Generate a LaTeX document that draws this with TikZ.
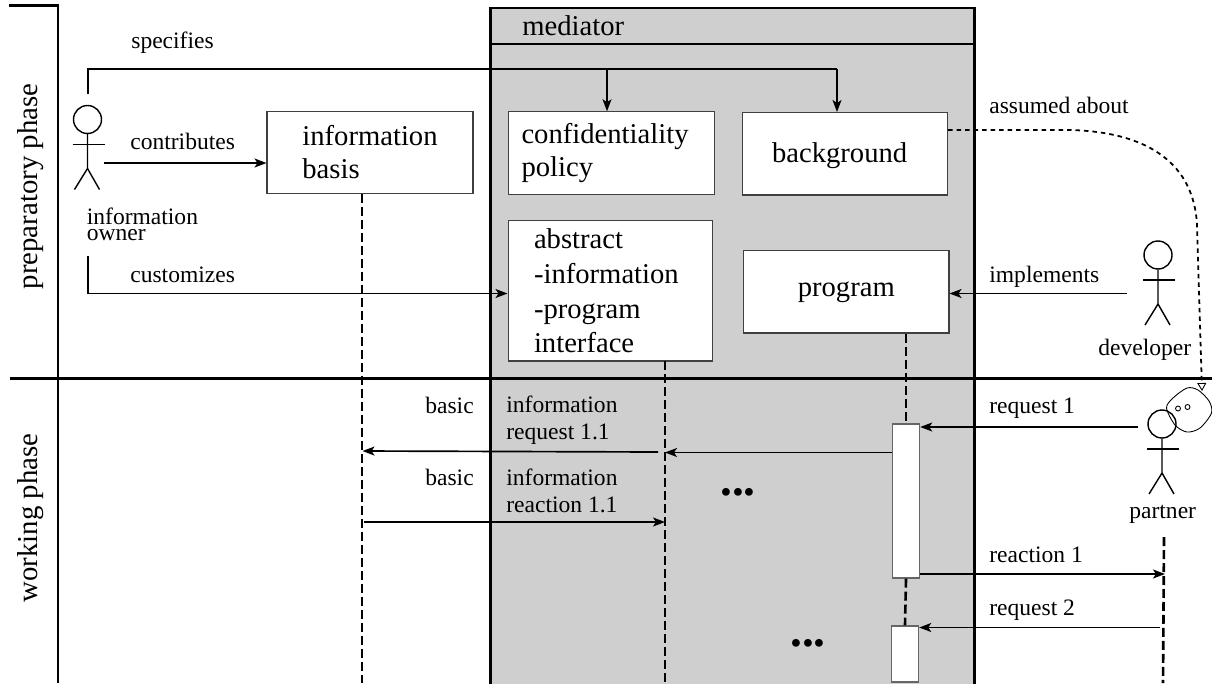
\documentclass[tikz,border=0pt]{standalone}
\usepackage{fontspec}
\setmainfont{Liberation Serif}
\usetikzlibrary{arrows.meta}
\definecolor{mediatorgray}{gray}{0.81}

\begin{document}
\begin{tikzpicture}[
	x=0.02cm,y=-0.02cm,
	>={Stealth[length=0.24cm,width=0.18cm,inset=0.06cm]},
	heavy/.style={line width=1.7pt},
	flow/.style={line width=0.95pt,->},
	life/.style={line width=1.5pt,dash pattern=on 0.18cm off 0.08cm},
	box/.style={draw=black!75,line width=0.6pt,fill=white,inner ysep=0pt,minimum height=1.65cm,align=left,font=\fontsize{16.3}{19}\selectfont},
	activation/.style={draw=black!60,line width=0.8pt,fill=white,inner sep=0pt,minimum width=0.54cm},
	lbl/.style={anchor=base west,inner sep=0pt,align=left,font=\fontsize{13.4}{14.9}\selectfont},
	biglbl/.style={anchor=base west,inner sep=0pt,font=\fontsize{16.3}{18.7}\selectfont},
	phase/.style={anchor=base,rotate=90,inner sep=0pt,font=\fontsize{16.4}{18.7}\selectfont},
	more/.style={anchor=base,inner sep=0pt,font=\fontsize{27}{27}\selectfont\bfseries},
	actor/.pic={
		\node[circle,draw,line width=0.8pt,minimum size=0.56cm,inner sep=0pt] (-head) at (0,0) {};
		\draw[line width=0.8pt] (-head.south) -- (0,49) -- (-13,70);
		\draw[line width=0.8pt] (0,49) -- (12,70);
		\draw[line width=0.8pt] (-15,25) -- (17,25);
	}
	]
		\useasboundingbox (0,0) rectangle (1212,683);

		% mediator and phases
		\draw[heavy,fill=mediatorgray] (490.5,8) rectangle (974,700);
		\path (522,35) node[biglbl] (mediator) {mediator};
		\draw[heavy] (490.5,44) -- (974,44);
		\draw[heavy] (9,5.5) -- (58,5.5) -- (58,683);
		\draw[heavy] (10,378) -- (1212,378);
		\path (37,186.5) node[phase] (preparatory) {preparatory phase};
		\path (37,518) node[phase] (working) {working phase};

		% boxes
		\path (370,152.5) node[box,inner xsep=0cm,minimum width=4.12cm,text depth=0.03cm] (basis) {information\\basis};
		\path (611.5,153) node[box,inner xsep=0.26cm,text width=3.6cm] (policy) {confidentiality\\policy};
		\path (844.75,153.75) node[box,inner xsep=0.6cm,text width=2.91cm,text depth=0.06cm] (background) {background};
		\path (610.25,290.75) node[box,inner xsep=0.52cm,text width=3.05cm,minimum height=2.81cm,font=\fontsize{16.3}{19.9}\selectfont] (interface) {abstract\\-information\\-program\\interface};
		\path (846.25,291.75) node[box,inner xsep=0cm,minimum width=4.11cm] (program) {program};
		\path (906,501) node[activation,minimum height=3.08cm] (act1) {};
		\path (905,654) node[activation,minimum height=1.12cm] (act2) {};

		% actors
		\path (87.5,119.5) pic (owner) {actor};
		\path (1158,255) pic (developer) {actor};
		\draw[line width=0.5pt] plot[smooth cycle] coordinates {(1166.5,408) (1173,398) (1187,388) (1198,390) (1209,401) (1211.5,413) (1200,428) (1187,432) (1175,425)};
		\path (1178,408.5) node[circle,draw,line width=0.5pt,minimum size=0.1cm,inner sep=0pt] (thought1) {};
		\path (1187.5,407) node[circle,draw,line width=0.5pt,minimum size=0.1cm,inner sep=0pt] (thought2) {};
		\path (1162,424) pic (partner) {actor};

		% free ends
		\coordinate (specstart) at (88,94);
		\coordinate (specpolicy) at (607,69);
		\coordinate (specbackground) at (837,69);
		\coordinate (contribstart) at (104,163);
		\coordinate (custstart) at (88,256);
		\coordinate (custturn) at (88,293.5);
		\coordinate (implstart) at (1127,293.5);
		\coordinate (basistop) at (362,194);
		\coordinate (basisend) at (362,683);
		\coordinate (interfacetop) at (665,361);
		\coordinate (interfaceend) at (665,683);
		\coordinate (partnertop) at (1164,537);
		\coordinate (partnerend) at (1163,683);
		\coordinate (assumedend) at (1202,391);

		% lifelines
		\draw[life] (basistop) -- (basisend);
		\draw[life] (interfacetop) -- (interfaceend);
		\draw[life] (act1.north |- program.south) -- (act1.north);
		\draw[life] (act1.south) -- (act2.north);
		\draw[life] (partnertop) -- (partnerend);

		% preparatory phase
		\draw[line width=0.95pt] (specstart) |- (specbackground);
		\draw[flow] (specpolicy) -- (specpolicy |- policy.north);
		\draw[flow] (specbackground) -- (specbackground |- background.north);
		\draw[flow] (contribstart) -- (contribstart -| basis.west);
		\draw[line width=0.95pt] (custstart) -- (custturn);
		\draw[flow] (custturn) -- (custturn -| interface.west);
		\draw[flow] (implstart) -- (implstart -| program.east);
		\draw[line width=1pt,dash pattern=on 0.09cm off 0.08cm,-{Triangle[open,length=0.16cm,width=0.18cm,line width=0.5pt]}] (background.east |- 0,130) -- (1070,130) .. controls (1150,132) and (1194,165) .. (1197,225) -- (assumedend);

		% working phase
		\draw[flow] (1138,427) -- (1138,427 -| act1.east);
		\draw[flow] (act1.west |- 0,452.5) -- (665,452.5);
		\draw[flow] (658,452) -- (362.5,451);
		\draw[flow] (364,522) -- (665,522);
		\draw[flow] (act1.east |- 0,574) -- (1165,574);
		\draw[flow] (1160,627.5) -- (1160,627.5 -| act2.east);

		% labels
		\path (131,48) node[lbl] (specifies) {specifies};
		\path (130,149) node[lbl] (contributes) {contributes};
		\path (130,282) node[lbl] (customizes) {customizes};
		\path (86.5,240.7) node[lbl,font=\fontsize{13.4}{9}\selectfont] (ownername) {information\\owner};
		\path (989,113) node[lbl] (assumed) {assumed about};
		\path (989,282) node[lbl] (implements) {implements};
		\path (1098,355) node[lbl] (developername) {developer};
		\path (989,413) node[lbl] (request1) {request 1};
		\path (1129,518) node[lbl] (partnername) {partner};
		\path (989,562) node[lbl] (reaction1) {reaction 1};
		\path (989,615) node[lbl] (request2) {request 2};
		\path (425,413) node[lbl] (basic1) {basic};
		\path (425,485) node[lbl] (basic2) {basic};
		\path (506,439) node[lbl] (inforequest) {information\\request 1.1};
		\path (506,512) node[lbl] (inforeaction) {information\\reaction 1.1};
		\path (738,495) node[more] (more1) {...};
		\path (808,646) node[more] (more2) {...};
	\end{tikzpicture}
\end{document}
